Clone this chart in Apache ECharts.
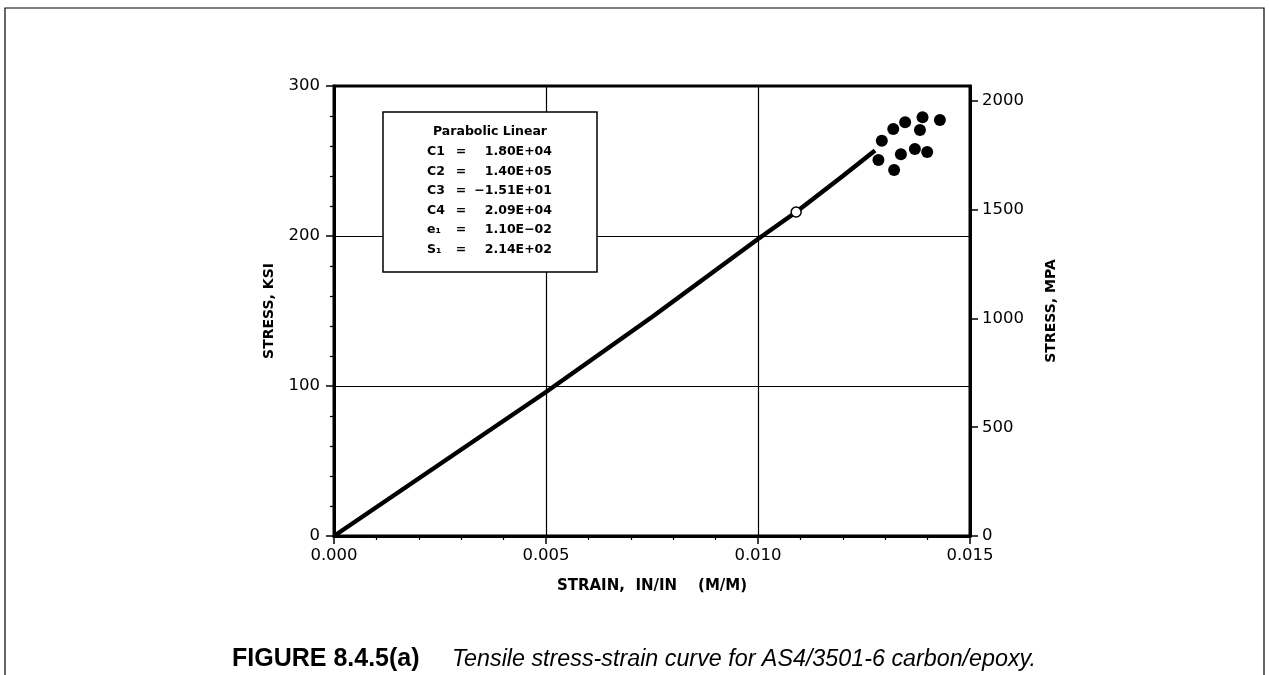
<!DOCTYPE html>
<html>
<head>
<meta charset="utf-8">
<script src="https://cdn.jsdelivr.net/npm/echarts@6/dist/echarts.min.js"></script>
<style>
html,body{margin:0;padding:0;background:#fff;}
#chart{width:1269px;height:675px;}
</style>
</head>
<body>
<div id="chart"></div>
<script>
// ---- data ----
const curveStrain = [0, 0.0025, 0.005, 0.0075, 0.0100, 0.0109, 0.0120, 0.01276];
const curveStress = [0, 48, 96, 146, 198, 216, 240, 257];
const transitionStrain = [0.0109];
const transitionStress = [216];
const testStrain = [0.01292, 0.01319, 0.01347, 0.01388, 0.01429, 0.01382, 0.01284, 0.01321, 0.01337, 0.01370, 0.01399];
const testStress = [263.5, 271.3, 275.8, 279.1, 277.3, 270.7, 250.7, 244.0, 254.5, 258.0, 256.0];
const mpaTicks = [0, 500, 1000, 1500, 2000];
const ksiToMpa = 6.894757;
const coefTitle = 'Parabolic Linear';
const coefLabels = ['C1', 'C2', 'C3', 'C4', 'e\u2081', 'S\u2081'];
const coefValues = ['1.80E+04', '1.40E+05', '\u22121.51E+01', '2.09E+04', '1.10E\u221202', '2.14E+02'];
const captionBold = 'FIGURE 8.4.5(a)';
const captionText = 'Tensile stress-strain curve for AS4/3501-6 carbon/epoxy.';

const zip = (a, b) => a.map((v, i) => [v, b[i]]);

const tickFont = {fontFamily: 'DejaVu Sans', fontSize: 16.5, color: '#000'};
const nameFont = {fontFamily: 'DejaVu Sans', fontSize: 14, fontWeight: 'bold', color: '#000'};

// legend box graphics
const boxX = 383, boxY = 112, boxW = 214, boxH = 160;
const boxFont = 'bold 12.5px "DejaVu Sans"';
const graphics = [
  {type: 'polyline', shape: {points: [[5, 675], [5, 8], [1264, 8], [1264, 675]]}, style: {stroke: '#000', lineWidth: 1.2, fill: null}, z: 100},
  {type: 'rect', shape: {x: boxX, y: boxY, width: boxW, height: boxH}, style: {fill: '#fff', stroke: '#000', lineWidth: 1.5}, z: 100},
  {type: 'text', x: boxX + boxW / 2, y: 132, style: {text: coefTitle, font: boxFont, fill: '#000', align: 'center', verticalAlign: 'middle'}, z: 101}
];
coefLabels.forEach((lab, i) => {
  const y = 152 + i * 19.5;
  graphics.push({type: 'text', x: 427, y: y, style: {text: lab, font: boxFont, fill: '#000', align: 'left', verticalAlign: 'middle'}, z: 101});
  graphics.push({type: 'text', x: 461, y: y, style: {text: '=', font: boxFont, fill: '#000', align: 'center', verticalAlign: 'middle'}, z: 101});
  graphics.push({type: 'text', x: 552, y: y, style: {text: coefValues[i], font: boxFont, fill: '#000', align: 'right', verticalAlign: 'middle'}, z: 101});
});
graphics.push({type: 'text', x: 232, y: 659, style: {text: captionBold, font: 'bold 25px "Liberation Sans"', fill: '#000', align: 'left', verticalAlign: 'middle'}, z: 101});
graphics.push({type: 'text', x: 452, y: 660, style: {text: captionText, font: 'italic 23.3px "Liberation Sans"', fill: '#000', align: 'left', verticalAlign: 'middle'}, z: 101});

const chart = echarts.init(document.getElementById('chart'));
chart.setOption({
  animation: false,
  backgroundColor: '#fff',
  grid: {left: 334, top: 86, width: 636, height: 450, show: true, borderColor: '#000', borderWidth: 3, backgroundColor: 'transparent'},
  xAxis: {
    type: 'value', min: 0, max: 0.015, interval: 0.005,
    name: 'STRAIN,  IN/IN    (M/M)', nameLocation: 'middle', nameGap: 43,
    nameTextStyle: Object.assign({}, nameFont, {fontSize: 15}),
    axisLine: {show: true, lineStyle: {color: '#000', width: 3}},
    axisTick: {show: true, length: 8, lineStyle: {color: '#000', width: 1.5}},
    minorTick: {show: true, splitNumber: 5, length: 4, lineStyle: {color: '#000', width: 1.2}},
    axisLabel: Object.assign({margin: 11, formatter: v => v.toFixed(3)}, tickFont),
    splitLine: {show: true, lineStyle: {color: '#000', width: 1.2}}
  },
  yAxis: [
    {
      type: 'value', min: 0, max: 300, interval: 100, position: 'left',
      name: 'STRESS, KSI', nameLocation: 'middle', nameGap: 58, nameTextStyle: nameFont,
      axisLine: {show: true, lineStyle: {color: '#000', width: 3}},
      axisTick: {show: true, length: 8, lineStyle: {color: '#000', width: 1.5}},
      minorTick: {show: true, splitNumber: 5, length: 4, lineStyle: {color: '#000', width: 1.2}},
      axisLabel: Object.assign({margin: 14}, tickFont),
      splitLine: {show: true, lineStyle: {color: '#000', width: 1.2}}
    },
    {
      type: 'value', min: 0, max: 300 * ksiToMpa, position: 'right',
      name: 'STRESS, MPA', nameLocation: 'middle', nameGap: 74, nameTextStyle: nameFont,
      axisLine: {show: true, lineStyle: {color: '#000', width: 3}},
      axisTick: {show: true, length: 8, customValues: mpaTicks, lineStyle: {color: '#000', width: 1.5}},
      axisLabel: Object.assign({margin: 12, customValues: mpaTicks, formatter: v => String(Math.round(v))}, tickFont),
      splitLine: {show: false}
    }
  ],
  series: [
    {type: 'line', data: zip(curveStrain, curveStress), showSymbol: false, symbol: 'none', lineStyle: {color: '#000', width: 4.5}, z: 3},
    {type: 'scatter', data: zip(transitionStrain, transitionStress), symbol: 'circle', symbolSize: 10, itemStyle: {color: '#fff', borderColor: '#000', borderWidth: 1.5, opacity: 1}, z: 5},
    {type: 'scatter', data: zip(testStrain, testStress), symbol: 'circle', symbolSize: 12, itemStyle: {color: '#000', opacity: 1}, z: 4}
  ],
  graphic: graphics
});
</script>
</body>
</html>
